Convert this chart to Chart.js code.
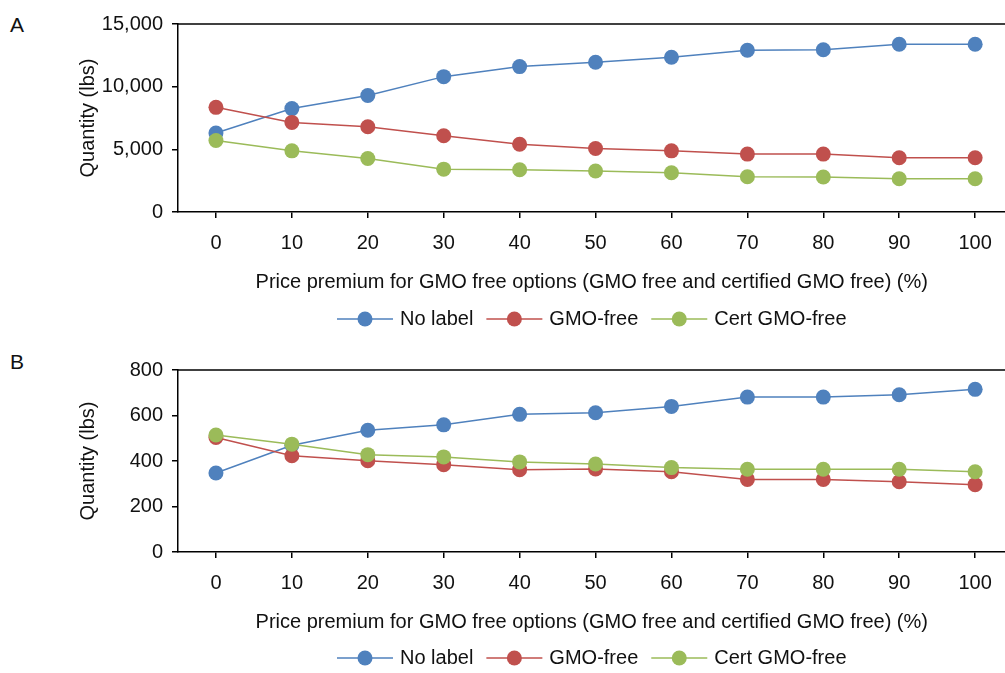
<!DOCTYPE html>
<html>
<head>
<meta charset="utf-8">
<script src="https://cdn.jsdelivr.net/npm/chart.js@4"></script>
<style>
  html, body { margin: 0; padding: 0; background: #fff; overflow: hidden; }
  body { width: 1005px; height: 673px; position: relative; }
  .panel { position: absolute; left: 0; width: 1013px; }
  .tag { position: absolute; left: 10px; font: 21px 'Liberation Sans', Arial, sans-serif; line-height: 26px; color: #111; }
</style>
</head>
<body>
<div class="tag" style="top:12px">A</div>
<div class="tag" style="top:349px">B</div>
<div class="panel" style="top:0;height:336px"><canvas id="chartA"></canvas></div>
<div class="panel" style="top:336px;height:337px"><canvas id="chartB"></canvas></div>
<script>
// price premium categories (%)
const premium = [0, 10, 20, 30, 40, 50, 60, 70, 80, 90, 100];
const seriesNames = ['No label', 'GMO-free', 'Cert GMO-free'];

// panel A (lbs)
const noLabelA = [6300, 8250, 9300, 10800, 11600, 11950, 12350, 12900, 12950, 13380, 13380];
const gmoFreeA = [8350, 7150, 6800, 6080, 5400, 5070, 4880, 4620, 4620, 4330, 4330];
const certFreeA = [5700, 4880, 4270, 3420, 3370, 3270, 3130, 2810, 2790, 2650, 2650];
const yTicksA = [0, 5000, 10000, 15000];

// panel B (lbs)
const noLabelB = [347, 469, 535, 559, 605, 612, 640, 681, 681, 691, 715];
const gmoFreeB = [503, 423, 401, 384, 362, 365, 353, 319, 319, 309, 296];
const certFreeB = [514, 474, 428, 418, 396, 387, 371, 364, 364, 364, 353];
const yTicksB = [0, 200, 400, 600, 800];

const colors = ['#4F81BD', '#C0504D', '#9BBB59'];
const FONT = "'Liberation Sans', Arial, sans-serif";
const FSIZE = 20;
const xTitle = 'Price premium for GMO free options (GMO free and certified GMO free) (%)';

const frameAndLegend = {
  id: 'frameAndLegend',
  afterDraw(chart, args, opts) {
    const ctx = chart.ctx;
    const area = chart.chartArea;
    ctx.save();
    // top border of the plot box
    ctx.strokeStyle = '#000';
    ctx.lineWidth = 1.5;
    ctx.beginPath();
    ctx.moveTo(area.left, area.top);
    ctx.lineTo(area.right, area.top);
    ctx.stroke();

    // legend: line with marker, then name
    ctx.font = FSIZE + 'px ' + FONT;
    ctx.textBaseline = 'middle';
    const lineLen = 56, gapText = 7, gapItem = 13;
    const items = chart.data.datasets.map(ds => ({ ds, w: ctx.measureText(ds.label).width }));
    let total = 0;
    items.forEach((it, i) => { total += lineLen + gapText + it.w + (i < items.length - 1 ? gapItem : 0); });
    let x = (area.left + area.right) / 2 - total / 2;
    const y = opts.y;
    items.forEach(it => {
      ctx.strokeStyle = it.ds.borderColor;
      ctx.lineWidth = 1.5;
      ctx.beginPath();
      ctx.moveTo(x, y);
      ctx.lineTo(x + lineLen, y);
      ctx.stroke();
      ctx.fillStyle = it.ds.borderColor;
      ctx.beginPath();
      ctx.arc(x + lineLen / 2, y, 7.5, 0, Math.PI * 2);
      ctx.fill();
      ctx.fillStyle = '#111';
      ctx.textAlign = 'left';
      ctx.fillText(it.ds.label, x + lineLen + gapText, y);
      x += lineLen + gapText + it.w + gapItem;
    });
    ctx.restore();
  }
};

function makeChart(id, series, yTicks, padTop, padBottom, legendY) {
  const yMax = yTicks[yTicks.length - 1];
  const datasets = series.map((vals, i) => ({
    label: seriesNames[i],
    data: premium.map((p, j) => ({ x: p, y: vals[j] })),
    borderColor: colors[i],
    backgroundColor: colors[i],
    pointBackgroundColor: colors[i],
    pointBorderWidth: 0,
    pointRadius: 7.5,
    borderWidth: 1.5,
    tension: 0,
    order: 3 - i
  }));
  return new Chart(document.getElementById(id), {
    type: 'line',
    data: { datasets: datasets },
    plugins: [frameAndLegend],
    options: {
      responsive: true,
      maintainAspectRatio: false,
      animation: false,
      layout: { padding: { left: 70, right: 0, top: padTop, bottom: padBottom } },
      plugins: {
        legend: { display: false },
        tooltip: { enabled: false },
        frameAndLegend: { y: legendY }
      },
      scales: {
        x: {
          type: 'linear',
          min: -5,
          max: 104,
          afterBuildTicks: axis => { axis.ticks = premium.map(v => ({ value: v })); },
          afterFit: axis => { axis.height = 90; },
          grid: { drawOnChartArea: false, color: '#000', tickLength: 6, lineWidth: 1.5 },
          border: { display: true, color: '#000', width: 1.5 },
          ticks: { color: '#111', font: { family: FONT, size: FSIZE }, padding: 13, maxRotation: 0,
                   callback: v => String(v) },
          title: { display: true, text: xTitle, color: '#111', font: { family: FONT, size: FSIZE },
                   padding: { top: 0, bottom: 8 } }
        },
        y: {
          min: 0,
          max: yMax,
          afterBuildTicks: axis => { axis.ticks = yTicks.map(v => ({ value: v })); },
          afterFit: axis => { axis.width = 108; },
          grid: { drawOnChartArea: false, color: '#000', tickLength: 6, lineWidth: 1.5 },
          border: { display: true, color: '#000', width: 1.5 },
          ticks: { color: '#111', font: { family: FONT, size: FSIZE }, padding: 9,
                   callback: v => v.toLocaleString('en-US') },
          title: { display: true, text: 'Quantity (lbs)', color: '#111', font: { family: FONT, size: FSIZE },
                   padding: { top: 6, bottom: 0 } }
        }
      }
    }
  });
}

makeChart('chartA', [noLabelA, gmoFreeA, certFreeA], yTicksA, 24, 34, 319);
makeChart('chartB', [noLabelB, gmoFreeB, certFreeB], yTicksB, 34, 31, 322);
</script>
</body>
</html>
